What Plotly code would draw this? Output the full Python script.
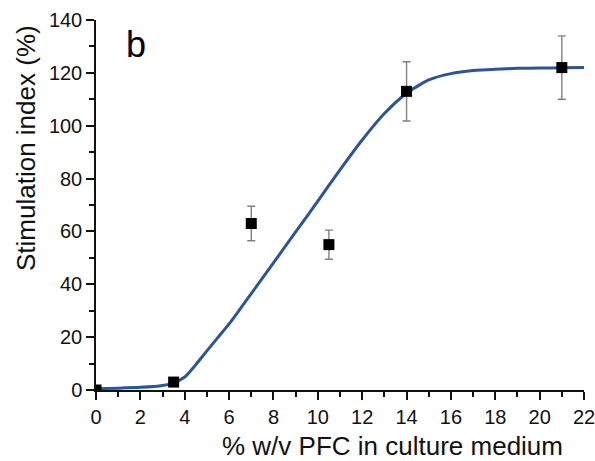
import plotly.graph_objects as go

# measured data
conc = [0, 3.5, 7, 10.5, 14, 21]
stim = [0, 3, 63, 55, 113, 122]
err = [0, 0, 6.5, 5.5, 11.2, 12]

# fitted curve
fit_x = [0, 1, 2, 3, 3.5, 4, 4.5, 5, 5.5, 6, 6.5, 7, 8, 9, 10, 11, 12, 13, 14, 15, 16, 17, 18, 19, 20, 21, 22]
fit_y = [0.5, 0.7, 1.0, 1.7, 2.7, 4.9, 9.6, 14.8, 19.9, 25.0, 30.7, 36.5, 48.1, 59.8, 71.5, 83.3, 94.6, 104.6, 112.3, 117.3, 119.7, 120.9, 121.4, 121.7, 121.8, 121.9, 122.0]

font = "Liberation Sans, Arial, sans-serif"
L, R, T, B = 96, 11, 20, 71
W, H = 595, 461
pw, ph = W - L - R, H - T - B

fig = go.Figure()
fig.add_trace(go.Scatter(
    x=fit_x, y=fit_y, mode="lines", line=dict(color="#2b5597", width=3, shape="spline", smoothing=0.6),
    showlegend=False, hoverinfo="skip"))
fig.add_trace(go.Scatter(
    x=conc, y=stim, mode="markers",
    marker=dict(symbol="square", size=11, color="black"),
    error_y=dict(type="data", array=err, visible=True, color="#808080", thickness=1.4, width=4),
    showlegend=False))

fig.update_layout(
    width=W, height=H,
    margin=dict(l=L, r=R, t=T, b=B, autoexpand=False),
    paper_bgcolor="white", plot_bgcolor="white",
    font=dict(family=font, color="black", size=20),
    annotations=[
        dict(text="b", x=(136 - L) / pw, y=(H - B - 44) / ph, xref="paper", yref="paper",
             showarrow=False, font=dict(size=36, family=font, color="black"),
             xanchor="center", yanchor="middle"),
        dict(text="% w/v PFC in culture medium", x=(392 - L) / pw, y=(H - B - 446) / ph,
             xref="paper", yref="paper", showarrow=False,
             font=dict(size=26, family=font, color="#111111"), xanchor="center", yanchor="middle"),
        dict(text="Stimulation index (%)", x=(26 - L) / pw, y=(H - B - 148) / ph,
             xref="paper", yref="paper", showarrow=False, textangle=-90,
             font=dict(size=26, family=font, color="#111111"), xanchor="center", yanchor="middle"),
    ],
)
fig.update_xaxes(
    range=[0, 22], tickvals=list(range(0, 23, 2)), showline=True, linecolor="#111111", linewidth=1.5,
    ticks="outside", ticklen=8, tickwidth=1.5, tickcolor="#111111", showgrid=False, zeroline=False,
    minor=dict(dtick=1, ticks="outside", ticklen=5, tickwidth=1.5, tickcolor="#111111", showgrid=False),
    tickfont=dict(size=20, color="#111111"), ticklabeloverflow="allow", automargin=False)
fig.update_yaxes(
    range=[0, 140], tickvals=list(range(0, 141, 20)), showline=True, linecolor="#111111", linewidth=1.5,
    ticks="outside", ticklen=8, tickwidth=1.5, tickcolor="#111111", showgrid=False, zeroline=False,
    minor=dict(dtick=10, ticks="outside", ticklen=5, tickwidth=1.5, tickcolor="#111111", showgrid=False),
    tickfont=dict(size=20, color="#111111"), automargin=False)

fig.write_html("out.html", config={"displayModeBar": False},
               post_script="document.body.style.margin='0';document.body.style.overflow='hidden';")
